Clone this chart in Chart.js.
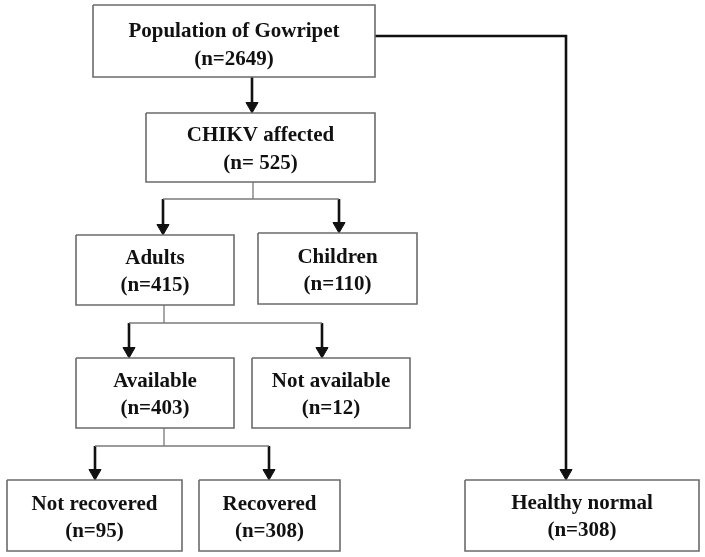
<!DOCTYPE html>
<html>
<head>
<meta charset="utf-8">
<script src="https://cdn.jsdelivr.net/npm/chart.js@4/dist/chart.umd.min.js"></script>
<style>
html,body{margin:0;padding:0;background:#fff;}
canvas{display:block;}
</style>
</head>
<body>
<canvas id="c" width="705" height="557"></canvas>
<script>
// ---- data ----
const nodeNames = ["Population of Gowripet", "CHIKV affected", "Adults", "Children", "Available", "Not available", "Not recovered", "Recovered", "Healthy normal"];
const nodeCountLabels = ["(n=2649)", "(n= 525)", "(n=415)", "(n=110)", "(n=403)", "(n=12)", "(n=95)", "(n=308)", "(n=308)"];
const nodeCounts = [2649, 525, 415, 110, 403, 12, 95, 308, 308];
const edgeFrom = [0, 1, 1, 2, 2, 4, 4, 0];
const edgeTo   = [1, 2, 3, 4, 5, 6, 7, 8];

// ---- layout (positions in chart units) ----
const boxes = [
  [93, 5, 375, 77],
  [146, 113, 375, 182],
  [76, 235, 234, 305],
  [258, 233, 417, 304],
  [76, 358, 234, 428],
  [252, 358, 410, 428],
  [7, 480, 182, 551],
  [199, 480, 340, 551],
  [465, 480, 699, 551]
];
const textLines = [[32, 60], [136, 164], [259, 286], [258, 285], [382, 409], [382, 409], [505, 532], [505, 532], [504, 531]];
// thin grey stems / bars
const thinLines = [
  [[253, 182], [253, 199]], [[163, 199], [339, 199]],
  [[164, 305], [164, 323]], [[129, 323], [322, 323]],
  [[164, 428], [164, 446]], [[95, 446], [269, 446]]
];
// thick black arrows (last point = arrow tip)
const arrows = [
  [[252, 77], [252, 113]],
  [[163, 199], [163, 235]], [[339, 199], [339, 233]],
  [[129, 323], [129, 358]], [[322, 323], [322, 358]],
  [[95, 446], [95, 480]], [[269, 446], [269, 480]],
  [[375, 36], [566, 36], [566, 480]]
];
const headR = 7;

const datasets = [];
boxes.forEach((b, i) => {
  datasets.push({
    label: nodeNames[i],
    data: [{x: b[0], y: b[1]}, {x: b[2], y: b[1]}, {x: b[2], y: b[3]}, {x: b[0], y: b[3]}, {x: b[0], y: b[1]}],
    showLine: true, borderColor: '#6b6b6b', borderWidth: 1.6, pointRadius: 0,
    borderJoinStyle: 'miter', fill: false, clip: false
  });
});
thinLines.forEach(l => {
  datasets.push({
    data: l.map(p => ({x: p[0], y: p[1]})),
    showLine: true, borderColor: '#7a7a7a', borderWidth: 1.3, pointRadius: 0, fill: false, clip: false
  });
});
arrows.forEach(a => {
  const pts = a.map(p => ({x: p[0], y: p[1]}));
  const tip = pts[pts.length - 1];
  pts[pts.length - 1] = {x: tip.x, y: tip.y - headR};
  datasets.push({
    data: pts,
    showLine: true, borderColor: '#111', borderWidth: 2.6, pointRadius: 0,
    borderJoinStyle: 'miter', fill: false, clip: false
  });
  datasets.push({
    data: [{x: tip.x, y: tip.y - headR}],
    showLine: false, pointStyle: 'triangle', pointRotation: 180, pointRadius: headR,
    backgroundColor: '#111', borderColor: '#111', borderWidth: 1, clip: false
  });
});

const textPlugin = {
  id: 'boxText',
  afterDatasetsDraw(chart) {
    const ctx = chart.ctx, xs = chart.scales.x, ys = chart.scales.y;
    ctx.save();
    ctx.fillStyle = '#111';
    ctx.font = 'bold 21px "Liberation Serif", "Times New Roman", serif';
    ctx.textAlign = 'center';
    ctx.textBaseline = 'middle';
    boxes.forEach((b, i) => {
      const cx = xs.getPixelForValue((b[0] + b[2]) / 2);
      ctx.fillText(nodeNames[i], cx, ys.getPixelForValue(textLines[i][0]));
      ctx.fillText(nodeCountLabels[i], cx, ys.getPixelForValue(textLines[i][1]));
    });
    ctx.restore();
  }
};

new Chart(document.getElementById('c'), {
  type: 'scatter',
  data: {datasets},
  options: {
    responsive: false,
    animation: false,
    layout: {padding: 0, autoPadding: false},
    plugins: {legend: {display: false}, tooltip: {enabled: false}},
    scales: {
      x: {type: 'linear', min: 0, max: 705, display: false},
      y: {type: 'linear', min: 0, max: 557, reverse: true, display: false}
    }
  },
  plugins: [textPlugin]
});
</script>
</body>
</html>
